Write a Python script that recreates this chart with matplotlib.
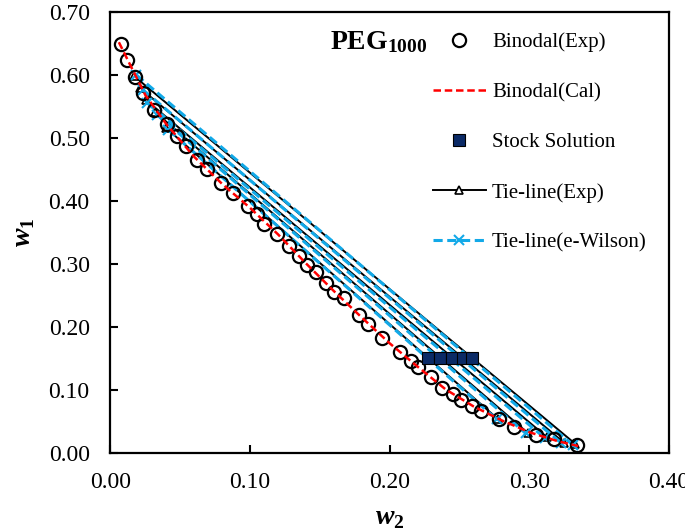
import numpy as np
import matplotlib
matplotlib.use('Agg')
import matplotlib.pyplot as plt

plt.rcParams['font.family'] = ['Liberation Serif', 'DejaVu Serif']
plt.rcParams['mathtext.fontset'] = 'custom'
plt.rcParams['mathtext.rm'] = 'Liberation Serif'
plt.rcParams['mathtext.bf'] = 'Liberation Serif:bold'
plt.rcParams['mathtext.bfit'] = 'Liberation Serif:bold:italic'

# binodal, experimental points
bin_w2 = [0.0073, 0.0120, 0.0176, 0.0231, 0.0312, 0.0403, 0.0479, 0.0539, 0.0622, 0.0694,
          0.0790, 0.0878, 0.0984, 0.1048, 0.1103, 0.1196, 0.1282, 0.1349, 0.1411, 0.1473,
          0.1545, 0.1602, 0.1674, 0.1781, 0.1844, 0.1948, 0.2072, 0.2154, 0.2202, 0.2295,
          0.2374, 0.2453, 0.2510, 0.2591, 0.2656, 0.2780, 0.2892, 0.3045, 0.3174, 0.3342]
bin_w1 = [0.6487, 0.6238, 0.5973, 0.5719, 0.5444, 0.5222, 0.5032, 0.4878, 0.4651, 0.4503,
          0.4285, 0.4132, 0.3921, 0.3786, 0.3630, 0.3471, 0.3286, 0.3127, 0.2984, 0.2878,
          0.2703, 0.2560, 0.2456, 0.2190, 0.2048, 0.1829, 0.1600, 0.1465, 0.1360, 0.1202,
          0.1027, 0.0937, 0.0841, 0.0746, 0.0671, 0.0535, 0.0408, 0.0286, 0.0217, 0.0127]

# binodal, calculated curve
cal_w2 = [0.006, 0.015, 0.025, 0.040, 0.060, 0.080, 0.100, 0.120, 0.140, 0.160,
          0.180, 0.200, 0.220, 0.240, 0.260, 0.280, 0.300, 0.320, 0.335]
cal_w1 = [0.652, 0.612, 0.568, 0.522, 0.470, 0.427, 0.389, 0.347, 0.301, 0.257,
          0.215, 0.174, 0.137, 0.101, 0.074, 0.052, 0.033, 0.019, 0.011]

# stock solutions
stock_w2 = [0.2276, 0.2362, 0.2448, 0.2527, 0.2591]
stock_w1 = [0.151, 0.150, 0.150, 0.150, 0.150]

# tie-lines (exp): top phase / bottom phase
tie_top_w2 = [0.0168, 0.0211, 0.0254, 0.0319, 0.0398]
tie_top_w1 = [0.5984, 0.5794, 0.5603, 0.5413, 0.5159]
tie_bot_w2 = [0.3330, 0.3251, 0.3129, 0.2993, 0.2778]
tie_bot_w1 = [0.0143, 0.0159, 0.0246, 0.0310, 0.0532]

# tie-lines (e-Wilson)
wil_top_w2 = [0.0185, 0.0235, 0.0265, 0.0335, 0.0415]
wil_top_w1 = [0.6000, 0.5760, 0.5560, 0.5370, 0.5130]
wil_bot_w2 = [0.3310, 0.3230, 0.3110, 0.2975, 0.2765]
wil_bot_w1 = [0.0130, 0.0155, 0.0240, 0.0310, 0.0535]

fig = plt.figure(figsize=(6.85, 5.31), dpi=100)
ax = fig.add_axes([0.1613, 0.1469, 0.8153, 0.8305])

blue = '#12a9e8'

for i in range(len(tie_top_w2)):
    ax.plot([tie_top_w2[i], tie_bot_w2[i]], [tie_top_w1[i], tie_bot_w1[i]], color='black',
            lw=1.4, marker='^', ms=6, mfc='white', mec='black', mew=1.2, zorder=2,
            label='Tie-line(Exp)' if i == 0 else None)
    ax.plot([wil_top_w2[i], wil_bot_w2[i]], [wil_top_w1[i], wil_bot_w1[i]], color=blue,
            lw=2.2, ls=(0, (3, 1.5)), marker='x', ms=7, mew=1.5, zorder=3,
            label='Tie-line(e-Wilson)' if i == 0 else None)

ax.plot(bin_w2, bin_w1, ls='none', marker='o', ms=9.5, mfc='none', mec='black', mew=1.6,
        zorder=4, label='Binodal(Exp)')
ax.plot(cal_w2, cal_w1, color='red', lw=1.8, ls=(0, (3, 1.5)), zorder=5, label='Binodal(Cal)')
ax.plot(stock_w2, stock_w1, ls='none', marker='s', ms=8, mfc='#0b2a66', mec='black', mew=0.8,
        zorder=6, label='Stock Solution')

ax.set_xlim(0, 0.40)
ax.set_ylim(0, 0.70)
ax.set_xticks(np.arange(0, 0.41, 0.1))
ax.set_yticks(np.arange(0, 0.71, 0.1))
ax.xaxis.set_major_formatter(matplotlib.ticker.FormatStrFormatter('%.2f'))
ax.yaxis.set_major_formatter(matplotlib.ticker.FormatStrFormatter('%.2f'))
ax.tick_params(direction='in', length=6, width=1.5, labelsize=17)
ax.tick_params(axis='x', pad=14)
ax.tick_params(axis='y', pad=15)
for s in ax.spines.values():
    s.set_linewidth(1.6)

ax.set_xlabel(r'$\mathbfit{w}_\mathbf{2}$', fontsize=20, labelpad=9)
ax.set_ylabel(r'$\mathbfit{w}_\mathbf{1}$', fontsize=20, labelpad=8)

ax.text(0.393, 0.932, r'$\mathbf{PEG_{1000}}$', transform=ax.transAxes, fontsize=20,
        va='center', ha='left')

h, l = ax.get_legend_handles_labels()
order = ['Binodal(Exp)', 'Binodal(Cal)', 'Stock Solution', 'Tie-line(Exp)', 'Tie-line(e-Wilson)']
hh = [h[l.index(o)] for o in order]
ax.legend(hh, order, loc='upper left', bbox_to_anchor=(0.577, 0.953), frameon=False,
          fontsize=15, labelspacing=1.46, handlelength=2.55, handletextpad=0.3,
          borderpad=0, borderaxespad=0)

plt.savefig('out.png', dpi=100)
plt.close('all')
